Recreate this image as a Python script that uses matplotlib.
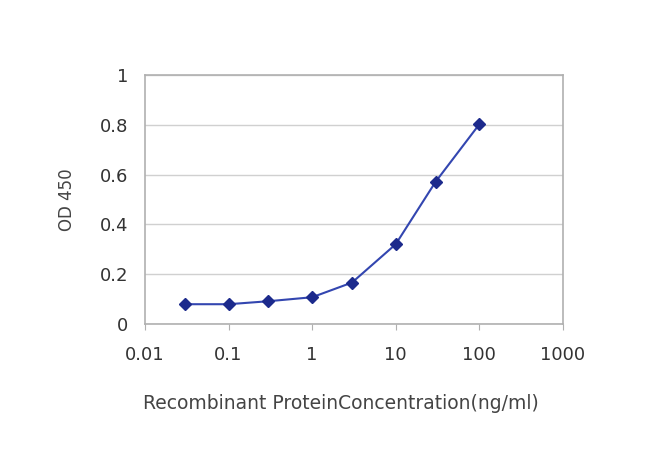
import numpy as np
import matplotlib
matplotlib.use('Agg')
import matplotlib.pyplot as plt
from matplotlib.ticker import FixedLocator, NullLocator

plt.rcParams['font.family'] = ['DejaVu Sans']

conc = [0.03, 0.1, 0.3, 1, 3, 10, 30, 100]  # ng/ml
od450 = [0.079, 0.079, 0.091, 0.107, 0.166, 0.32, 0.571, 0.802]

xticks = [0.01, 0.1, 1, 10, 100, 1000]
xtick_labels = ['0.01', '0.1', '1', '10', '100', '1000']
yticks = [0, 0.2, 0.4, 0.6, 0.8, 1]
ytick_labels = ['0', '0.2', '0.4', '0.6', '0.8', '1']

fig = plt.figure(figsize=(6.5, 4.66), dpi=100)
ax = fig.add_axes([0.223, 0.305, 0.643, 0.534])

ax.plot(conc, od450, color='#3346b0', lw=1.5, marker='D', ms=6.5,
        mfc='#1c2a8c', mec='#1c2a8c', zorder=3)

ax.set_xscale('log')
ax.set_xlim(0.01, 1000)
ax.set_ylim(0, 1)
ax.xaxis.set_major_locator(FixedLocator(xticks))
ax.xaxis.set_minor_locator(NullLocator())
ax.set_xticklabels(xtick_labels)
ax.set_yticks(yticks)
ax.set_yticklabels(ytick_labels)

ax.yaxis.grid(True, color='#d0d0d0', lw=1)
ax.set_axisbelow(True)
for s in ax.spines.values():
    s.set_color('#b0b0b0')
    s.set_linewidth(1.2)

ax.tick_params(axis='x', direction='out', length=4, color='#b0b0b0',
               labelsize=13, pad=12, labelcolor='#333333')
ax.tick_params(axis='y', length=0, labelsize=13, pad=12, labelcolor='#333333')

ax.set_xlabel('Recombinant ProteinConcentration(ng/ml)', fontsize=13.5,
              color='#444444', labelpad=20)
ax.xaxis.set_label_coords(0.469, -0.28)
ax.set_ylabel('OD 450', fontsize=12, color='#444444')
ax.yaxis.set_label_coords(-0.165, 0.5)

fig.savefig('out.png', dpi=100)
